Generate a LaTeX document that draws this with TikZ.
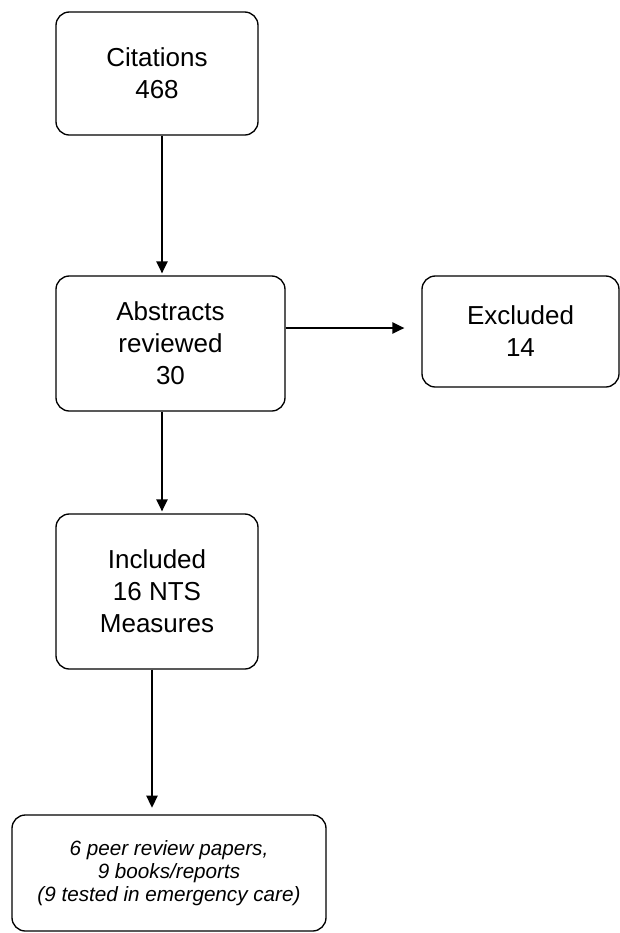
\documentclass[tikz,border=0pt]{standalone}
\usepackage{fontspec}
\setmainfont{Liberation Sans}
\usetikzlibrary{arrows.meta}

\tikzset{
	stagebox/.style={draw, line width=1pt, rounded corners=10pt, align=center, inner sep=0pt,
		font=\fontsize{19.5}{24}\selectfont},
	flowarrow/.style={-{Triangle[length=9pt, width=8.5pt]}, line width=1.1pt, shorten >=1.5pt},
}

\begin{document}
\begin{tikzpicture}[x=0.75pt, y=-0.75pt]
	\useasboundingbox (0,0) rectangle (620,933);

	\node[stagebox, minimum width=151.5pt, minimum height=92.25pt] (cit) at (157,73.5) {Citations\\468};
	\node[stagebox, minimum width=171.75pt, minimum height=101.25pt] (abs) at (170.5,343.5) {Abstracts\\reviewed\\30};
	\node[stagebox, minimum width=147.75pt, minimum height=83.25pt] (exc) at (520.5,331.5) {Excluded\\14};
	\node[stagebox, minimum width=151.5pt, minimum height=116.25pt] (inc) at (157,591.5) {Included\\16 NTS\\Measures};
	\node[stagebox, minimum width=235.5pt, minimum height=87pt,
		font=\fontsize{15.5}{17}\selectfont\itshape] (res) at (169,873)
		{6 peer review papers,\\9 books/reports\\(9 tested in emergency care)};

	\coordinate (spine) at (162,0);
	\coordinate (lowspine) at (152,0);
	\coordinate (row) at (0,328);

	\draw[flowarrow] (cit.south -| spine) -- (abs.north -| spine);
	\draw[flowarrow] (abs.south -| spine) -- (inc.north -| spine);
	\draw[flowarrow, shorten >=5pt] (inc.south -| lowspine) -- (res.north -| lowspine);
	\draw[flowarrow, shorten >=12.75pt] (abs.east |- row) -- (exc.west |- row);
\end{tikzpicture}
\end{document}
